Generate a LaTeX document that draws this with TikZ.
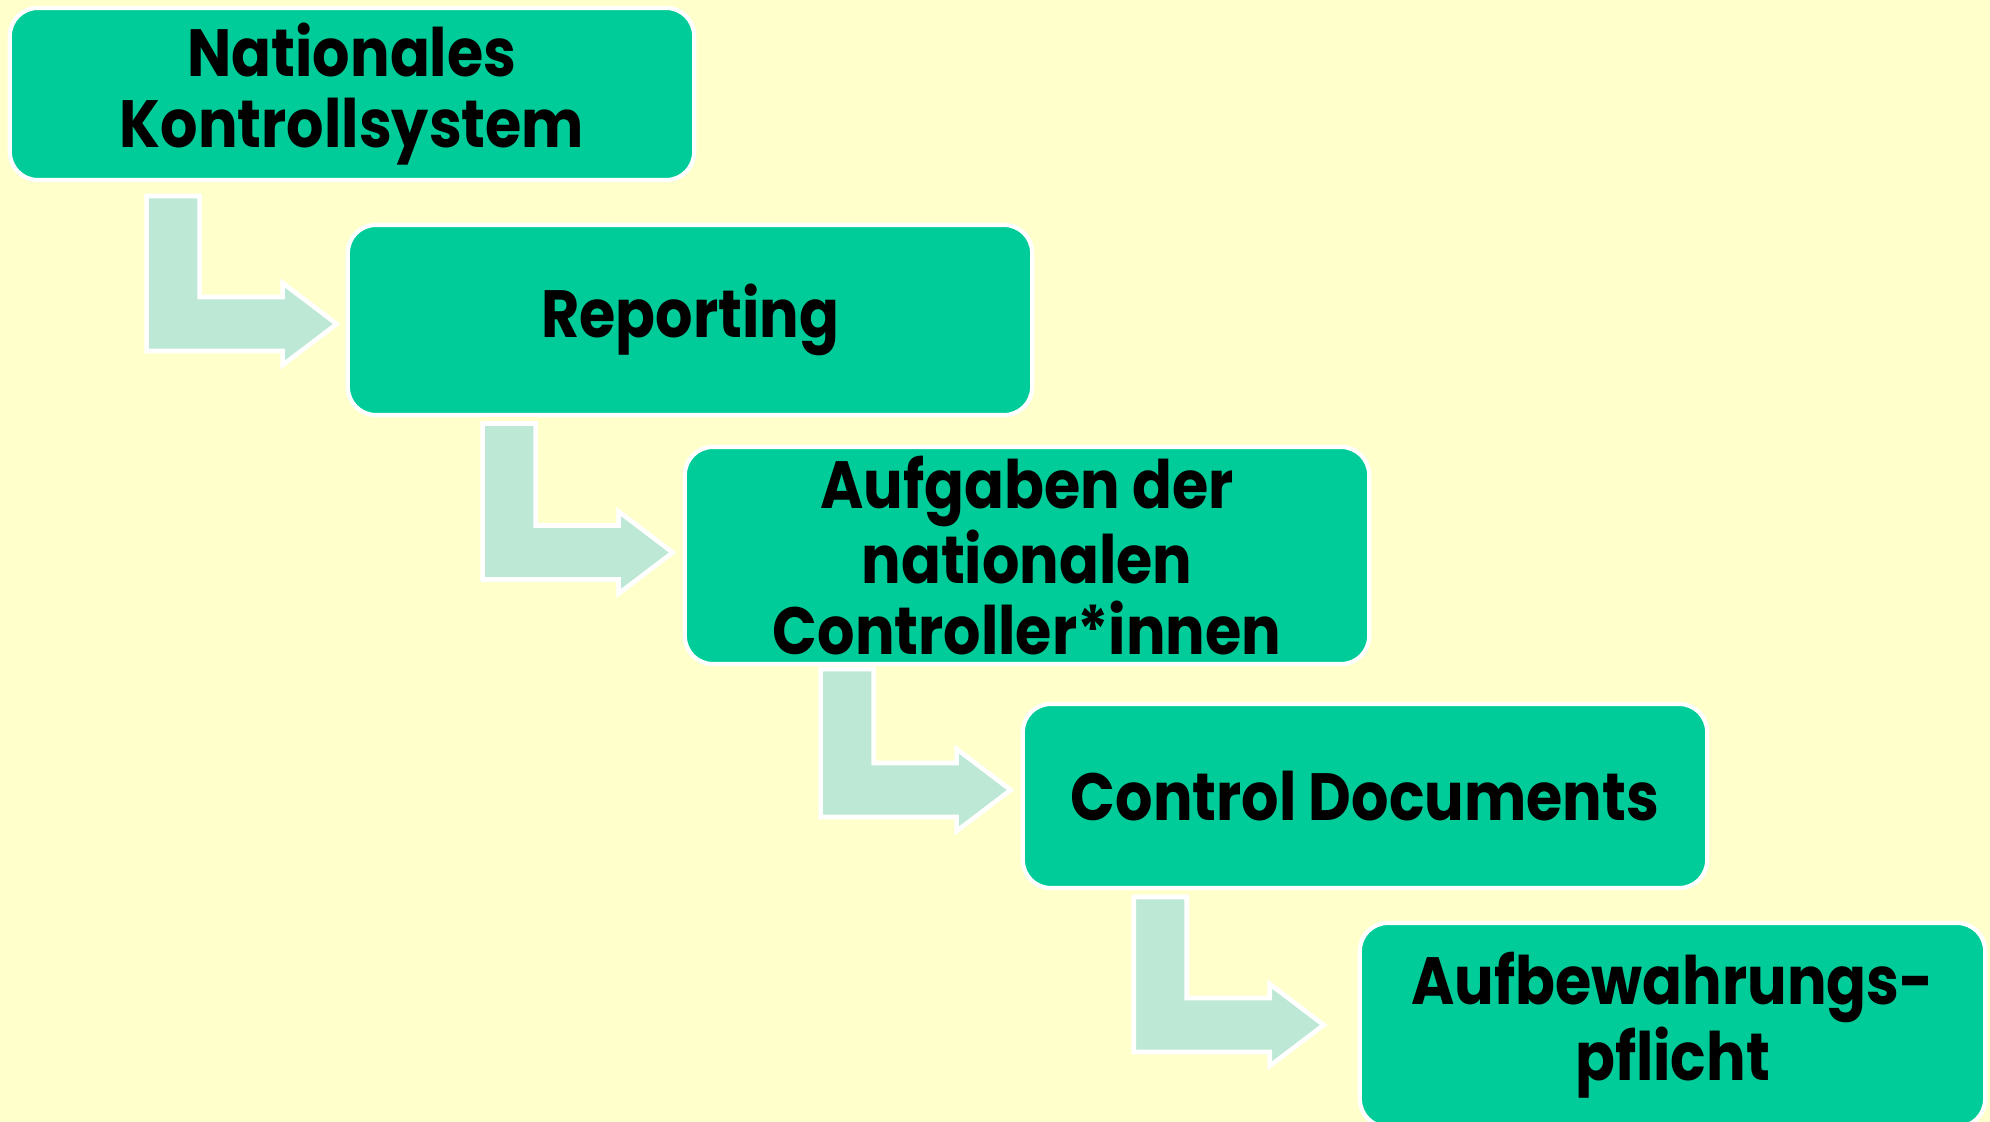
\documentclass[tikz,border=0pt]{standalone}
\usepackage{fontspec}
\setmainfont{Poppins}[FakeStretch=0.88]
\usetikzlibrary{calc}
\definecolor{bgyellow}{HTML}{FFFFCC}
\definecolor{boxgreen}{HTML}{00CC99}
\definecolor{arrowmint}{HTML}{BDE8D6}
\tikzset{
  stepbox/.style={rectangle, rounded corners=0.28cm, fill=boxgreen, draw=white,
    line width=1.2pt, minimum width=6.84cm, align=center, inner sep=0pt,
    font=\fontsize{19}{20}\selectfont\bfseries, text=black},
  pics/bentarrow/.style={code={
    \fill[arrowmint, draw=white, line width=1.3pt]
      (0,0) -- (-54,-41) -- (-54,-27) -- (-137,-27) -- (-137,-#1) -- (-190,-#1)
      -- (-190,27) -- (-54,27) -- (-54,41) -- cycle;
  }}
}
\begin{document}
\begin{tikzpicture}[x=0.01cm, y=-0.01cm]
\fill[bgyellow] (0,0) rectangle (1990,1122);
\useasboundingbox (0,0) rectangle (1990,1122);
\clip (0,0) rectangle (1990,1122);
\node[stepbox, minimum height=1.72cm] (b1) at (352,94) {Nationales\\Kontrollsystem};
\node[stepbox, minimum height=1.90cm] (b2) at (690,320) {Reporting};
\node[stepbox, minimum height=2.17cm] (b3) at (1027,555.5) {Aufgaben der\\nationalen\\Controller*innen};
\node[stepbox, minimum height=1.84cm] (b4) at (1365,796) {Control Documents};
\node[stepbox, minimum height=2.04cm, minimum width=6.25cm] (b5) at (1672.5,1025) {Aufbewahrungs-\\pflicht};
\coordinate (t1) at ($(b2.west)+(-9,4)$);
\coordinate (t2) at ($(b3.west)+(-10,-3)$);
\coordinate (t3) at ($(b4.west)+(-10,-6)$);
\coordinate (t4) at ($(b5.west)+(-34,0)$);
\pic at (t1) {bentarrow=128};
\pic at (t2) {bentarrow=129};
\pic at (t3) {bentarrow=121};
\pic at (t4) {bentarrow=128};
\end{tikzpicture}
\end{document}
